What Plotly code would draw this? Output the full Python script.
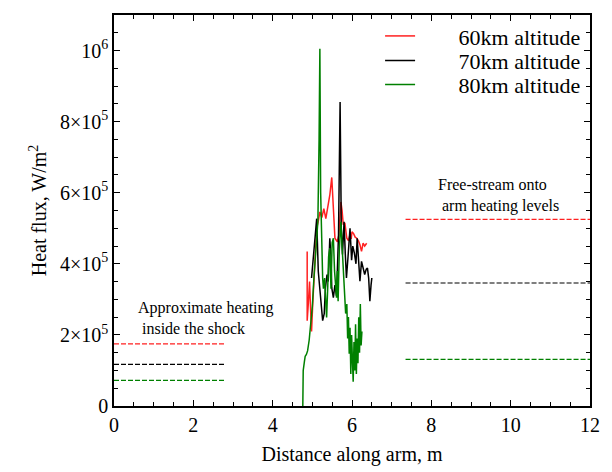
import plotly.graph_objects as go

# ---- data (heat flux in W/m^2, distance in m) ----
x60 = [4.87, 4.87, 4.90, 4.93, 4.96, 4.98, 5.01, 5.04, 5.07, 5.11, 5.15, 5.19, 5.24, 5.29, 5.34,
       5.40, 5.44, 5.49, 5.53, 5.57, 5.63, 5.67, 5.72, 5.75, 5.78, 5.82, 5.87, 5.91, 5.95, 5.98,
       6.00, 6.04, 6.08, 6.12, 6.16, 6.20, 6.24, 6.28, 6.32, 6.37]
y60 = [4.35e5, 2.4e5, 2.9e5, 3.5e5, 2.6e5, 2.1e5, 2.87e5, 3.6e5, 4.26e5, 5.0e5, 5.2e5, 5.46e5, 5.3e5, 5.55e5, 5.27e5,
       5.65e5, 5.93e5, 6.43e5, 5.55e5, 4.72e5, 4.62e5, 4.81e5, 5.74e5, 5.5e5, 5.1e5, 5.15e5, 4.72e5, 4.65e5, 4.82e5, 4.7e5,
       4.9e5, 4.85e5, 4.75e5, 4.72e5, 4.65e5, 4.54e5, 4.35e5, 4.58e5, 4.5e5, 4.58e5]

x70 = [4.98, 5.01, 5.03, 5.07, 5.11, 5.15, 5.19, 5.23, 5.26, 5.30, 5.33, 5.37, 5.40, 5.42, 5.44,
       5.47, 5.49, 5.53, 5.57, 5.61, 5.63, 5.66, 5.70, 5.71, 5.73, 5.76, 5.78, 5.80, 5.83, 5.86,
       5.90, 5.95, 5.99, 6.02, 6.06, 6.10, 6.13, 6.16, 6.20, 6.24, 6.28, 6.32, 6.36, 6.39, 6.42,
       6.45, 6.48, 6.50]
y70 = [3.6e5, 4.0e5, 4.26e5, 4.72e5, 5.27e5, 3.79e5, 3.3e5, 2.59e5, 2.4e5, 2.6e5, 3.32e5, 3.7e5, 3.5e5, 4.07e5, 4.72e5,
       4.2e5, 3.32e5, 3.05e5, 3.4e5, 3.1e5, 4.0e5, 4.82e5, 8.55e5, 6.1e5, 5.0e5, 4.26e5, 4.6e5, 5.18e5, 4.3e5, 3.6e5,
       4.2e5, 5.0e5, 4.1e5, 4.5e5, 4.3e5, 4.0e5, 4.72e5, 4.1e5, 3.51e5, 4.07e5, 3.9e5, 3.7e5, 3.85e5, 3.88e5, 3.6e5,
       2.95e5, 3.4e5, 3.6e5]

x80 = [4.76, 4.77, 4.80, 4.82, 4.85, 4.88, 4.92, 4.96, 5.00, 5.04, 5.08, 5.11, 5.14, 5.17, 5.19,
       5.21, 5.23, 5.26, 5.28, 5.31, 5.34, 5.36, 5.39, 5.41, 5.44, 5.47, 5.50, 5.53, 5.56, 5.59,
       5.61, 5.63, 5.65, 5.68, 5.72, 5.75, 5.78, 5.81, 5.84, 5.87, 5.89, 5.91, 5.93, 5.95, 5.97,
       5.99, 6.01, 6.03, 6.05, 6.07, 6.09, 6.11, 6.13, 6.15, 6.17, 6.19, 6.21, 6.23, 6.25]
y80 = [0, 1.0e5, 1.25e5, 1.4e5, 1.45e5, 1.55e5, 1.85e5, 2.3e5, 2.8e5, 3.6e5, 4.3e5, 5.0e5, 5.2e5, 7.5e5, 1.005e6,
       6.0e5, 4.5e5, 3.6e5, 3.3e5, 3.6e5, 2.9e5, 2.49e5, 3.4e5, 4.2e5, 4.44e5, 3.3e5, 4.6e5, 4.72e5, 3.8e5, 3.3e5,
       3.05e5, 3.8e5, 2.95e5, 4.4e5, 5.18e5, 4.5e5, 3.8e5, 3.2e5, 2.6e5, 2.87e5, 1.9e5, 2.5e5, 1.47e5, 2.2e5, 0.9e5,
       2.0e5, 1.1e5, 0.68e5, 1.8e5, 1.0e5, 2.3e5, 0.9e5, 1.9e5, 1.2e5, 2.5e5, 1.5e5, 2.87e5, 1.7e5, 2.1e5]

# approximate heating inside the shock (dashed, left) and free-stream levels (dashed, right)
shock_x = [0, 2.8]
shock_levels = [1.75e5, 1.17e5, 0.72e5]
free_x = [7.35, 12]
free_levels = [5.25e5, 3.46e5, 1.31e5]

names = ["60km altitude", "70km altitude", "80km altitude"]
colors = ["#ff2020", "#000000", "#008000"]

ytick_vals = [0, 2e5, 4e5, 6e5, 8e5, 1e6]
ytick_text = ["0", "2×10<sup>5</sup>", "4×10<sup>5</sup>", "6×10<sup>5</sup>", "8×10<sup>5</sup>", "10<sup>6</sup>"]
xtick_vals = [0, 2, 4, 6, 8, 10, 12]

FONT = "Liberation Serif"
legend_ids = ["legend", "legend2", "legend3"]
legend_y = [0.946, 0.883, 0.822]

fig = go.Figure()
for xs, ys, nm, c, lg in zip([x60, x70, x80], [y60, y70, y80], names, colors, legend_ids):
    fig.add_trace(go.Scatter(x=xs, y=ys, mode="lines", name="       " + nm, legend=lg,
                             line=dict(color=c, width=1.5)))

for lvl, c in zip(shock_levels, colors):
    fig.add_trace(go.Scatter(x=shock_x, y=[lvl, lvl], mode="lines", showlegend=False,
                             line=dict(color=c, width=1.2, dash="5px,2px")))
for lvl, c in zip(free_levels, colors):
    fig.add_trace(go.Scatter(x=free_x, y=[lvl, lvl], mode="lines", showlegend=False,
                             line=dict(color=c, width=1.2, dash="5px,2px")))

fig.add_annotation(x=0.555, y=2.48e5, xref="x", yref="y", text="Approximate heating<br> inside the shock",
                   showarrow=False, xanchor="left", yanchor="middle", align="left",
                   font=dict(family=FONT, size=16, color="black"))
fig.add_annotation(x=8.12, y=5.93e5, xref="x", yref="y", text="Free-stream onto<br> arm heating levels",
                   showarrow=False, xanchor="left", yanchor="middle", align="left",
                   font=dict(family=FONT, size=16, color="black"))

axis_common = dict(showline=True, linecolor="black", linewidth=1.5, mirror="ticks",
                   ticks="inside", ticklen=6, tickwidth=1, tickcolor="black",
                   showgrid=False, zeroline=False,
                   tickfont=dict(family=FONT, size=20, color="black"))

fig.update_xaxes(range=[0, 12], tickvals=xtick_vals,
                 title=dict(text="Distance along arm, m", font=dict(family=FONT, size=20, color="black"), standoff=12),
                 minor=dict(dtick=0.5, ticks="inside", ticklen=4, tickcolor="black", showgrid=False),
                 **axis_common)
fig.update_yaxes(range=[0, 1.1e6], tickvals=ytick_vals, ticktext=ytick_text,
                 title=dict(text="Heat flux, W/m<sup>2</sup>", font=dict(family=FONT, size=20, color="black"), standoff=8),
                 minor=dict(dtick=5e4, ticks="inside", ticklen=4, tickcolor="black", showgrid=False),
                 **axis_common)

legend_common = dict(xanchor="left", yanchor="middle", bgcolor="rgba(0,0,0,0)",
                     font=dict(family=FONT, size=22, color="black"), borderwidth=0)
layout_legends = {lg: dict(x=0.559, y=ly, **legend_common) for lg, ly in zip(legend_ids, legend_y)}

fig.update_layout(
    width=612, height=472,
    margin=dict(l=106, r=30, t=5, b=74),
    plot_bgcolor="white", paper_bgcolor="white",
    font=dict(family=FONT, size=20, color="black"),
    **layout_legends,
)

fig.write_html("out.html")
